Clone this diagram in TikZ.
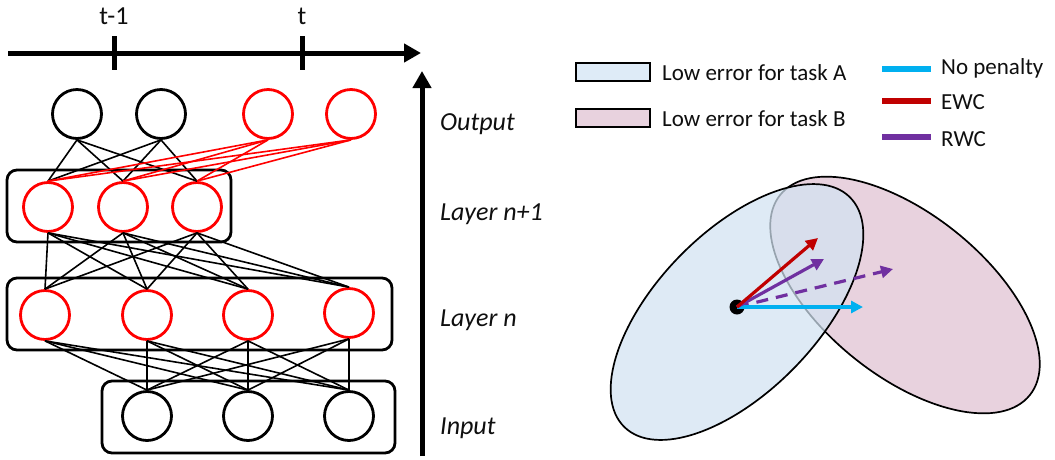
\documentclass[tikz,border=0pt]{standalone}
\usepackage{fontspec}
\setmainfont{Carlito}
\usetikzlibrary{arrows.meta}
\definecolor{nred}{RGB}{255,0,0}
\definecolor{ewc}{RGB}{192,0,0}
\definecolor{rwc}{RGB}{112,48,160}
\definecolor{nopen}{RGB}{0,176,240}
\definecolor{bluefill}{RGB}{210,227,242}
\definecolor{bluelegend}{RGB}{222,235,247}
\definecolor{pinkfill}{RGB}{232,210,222}
\definecolor{txt}{RGB}{15,15,15}
\tikzset{
  neuron/.style={circle, draw=black, line width=2.8pt, minimum size=49pt, inner sep=0pt},
  rneuron/.style={neuron, draw=nred},
  layerbox/.style={draw, line width=2.8pt, rounded corners=10pt, inner sep=0pt},
  link/.style={line width=1.6pt, draw=black},
  rlink/.style={line width=1.6pt, draw=nred},
  lbl/.style={font=\fontsize{26}{30}\selectfont\itshape, anchor=west, text=txt, inner sep=0pt},
  tlbl/.style={font=\fontsize{26}{30}\selectfont, text=txt, inner sep=0pt},
  legtxt/.style={font=\fontsize{23}{27}\selectfont, anchor=west, text=txt, inner sep=0pt},
  legbox/.style={draw=black, line width=2.2pt, minimum width=74pt, minimum height=18pt, inner sep=0pt},
  legline/.style={line width=5.5pt},
  bigarrow/.style={line width=5pt, -{Triangle[length=17pt,width=18pt]}},
  tick/.style={line width=5pt},
  vec/.style={line width=3.2pt, -{Triangle[length=12pt,width=12pt]}},
  ell/.style={draw=black, line width=1.7pt}
}
\begin{document}
\begin{tikzpicture}[x=1pt,y=-1pt]
\useasboundingbox (0,0) rectangle (1055,459);
\fill[white] (0,0) rectangle (1055,459);

% ---------- time line ----------
\coordinate (tl0) at (8,53);
\coordinate (tl1) at (421,53);
\draw[bigarrow] (tl0) -- (tl1);
\coordinate (t1a) at (114,36); \coordinate (t1b) at (114,70);
\coordinate (t2a) at (302,36); \coordinate (t2b) at (302,70);
\draw[tick] (t1a) -- (t1b);
\draw[tick] (t2a) -- (t2b);
\node[tlbl] (lt1) at (114,16) {t-1};
\node[tlbl] (lt) at (302,16) {t};

% ---------- vertical arrow ----------
\coordinate (va0) at (422,456);
\coordinate (va1) at (422,71);
\draw[bigarrow] (va0) -- (va1);
\node[lbl] (lOut) at (440,124) {Output};
\node[lbl] (lN1) at (440,214) {Layer n+1};
\node[lbl] (lN) at (440,320) {Layer n};
\node[lbl] (lIn) at (440,428) {Input};

% ---------- layer boxes ----------
\node[layerbox, minimum width=224pt, minimum height=72pt] (boxB) at (119,206) {};
\node[layerbox, minimum width=385pt, minimum height=72pt] (boxN) at (199.5,314) {};
\node[layerbox, minimum width=293pt, minimum height=72pt] (boxI) at (248.5,417) {};

% ---------- neurons ----------
\node[neuron]  (o1) at (77,114) {};
\node[neuron]  (o2) at (161,114) {};
\node[rneuron] (o3) at (268,114) {};
\node[rneuron] (o4) at (351,114) {};

\node[rneuron] (b1) at (48,207) {};
\node[rneuron] (b2) at (123,207) {};
\node[rneuron] (b3) at (197,207) {};

\node[rneuron] (n1) at (45,315) {};
\node[rneuron] (n2) at (147,315) {};
\node[rneuron] (n3) at (248,315) {};
\node[rneuron] (n4) at (349,313) {};

\node[neuron] (i1) at (147,416) {};
\node[neuron] (i2) at (248,416) {};
\node[neuron] (i3) at (349,416) {};

% ---------- connections ----------
\foreach \o in {o1,o2}
  \foreach \b in {b1,b2,b3}
    \draw[link] (\o.south) -- (\b.north);
\foreach \o in {o3,o4}
  \foreach \b in {b1,b2,b3}
    \draw[rlink] (\o.south) -- (\b.north);
\foreach \b in {b1,b2,b3}
  \foreach \n in {n1,n2,n3,n4}
    \draw[link] (\b.south) -- (\n.north);
\foreach \n in {n1,n2,n3,n4}
  \foreach \i in {i1,i2,i3}
    \draw[link] (\n.south) -- (\i.north);

% ---------- legend ----------
\node[legbox, fill=bluelegend] (lgA) at (613,72) {};
\node[legbox, fill=pinkfill] (lgB) at (613,118) {};
\node[legtxt] (lgAt) at (662,73) {Low error for task A};
\node[legtxt] (lgBt) at (662,119) {Low error for task B};

\coordinate (lc0) at (882,69);  \coordinate (lc1) at (931,69);
\coordinate (le0) at (882,101); \coordinate (le1) at (931,101);
\coordinate (lr0) at (882,137); \coordinate (lr1) at (931,137);
\draw[legline, nopen] (lc0) -- (lc1);
\draw[legline, ewc] (le0) -- (le1);
\draw[legline, rwc] (lr0) -- (lr1);
\node[legtxt] (lct) at (941,68) {No penalty};
\node[legtxt] (let) at (941,102) {EWC};
\node[legtxt] (lrt) at (941,139) {RWC};

% ---------- ellipses ----------
\draw[ell, fill=pinkfill, rotate around={-38.7:(905,295)}] (905,295) ellipse [x radius=160, y radius=81];
\fill[bluefill, fill opacity=0.72, rotate around={45.6:(737,312)}] (737,312) ellipse [x radius=161, y radius=80];
\draw[ell, rotate around={45.6:(737,312)}] (737,312) ellipse [x radius=161, y radius=80];

% ---------- vectors ----------
\node[circle, fill=black, minimum size=15pt, inner sep=0pt] (dot) at (737,307) {};
\coordinate (vEWC) at (818,238);
\coordinate (vRWC) at (824,259);
\coordinate (vRWCd) at (893,269);
\coordinate (vNo) at (863,307);
\draw[vec, rwc, dash pattern=on 12pt off 8pt] (dot.center) -- (vRWCd);
\draw[vec, nopen] (dot.center) -- (vNo);
\draw[vec, rwc] (dot.center) -- (vRWC);
\draw[vec, ewc] (dot.center) -- (vEWC);
\end{tikzpicture}
\end{document}
